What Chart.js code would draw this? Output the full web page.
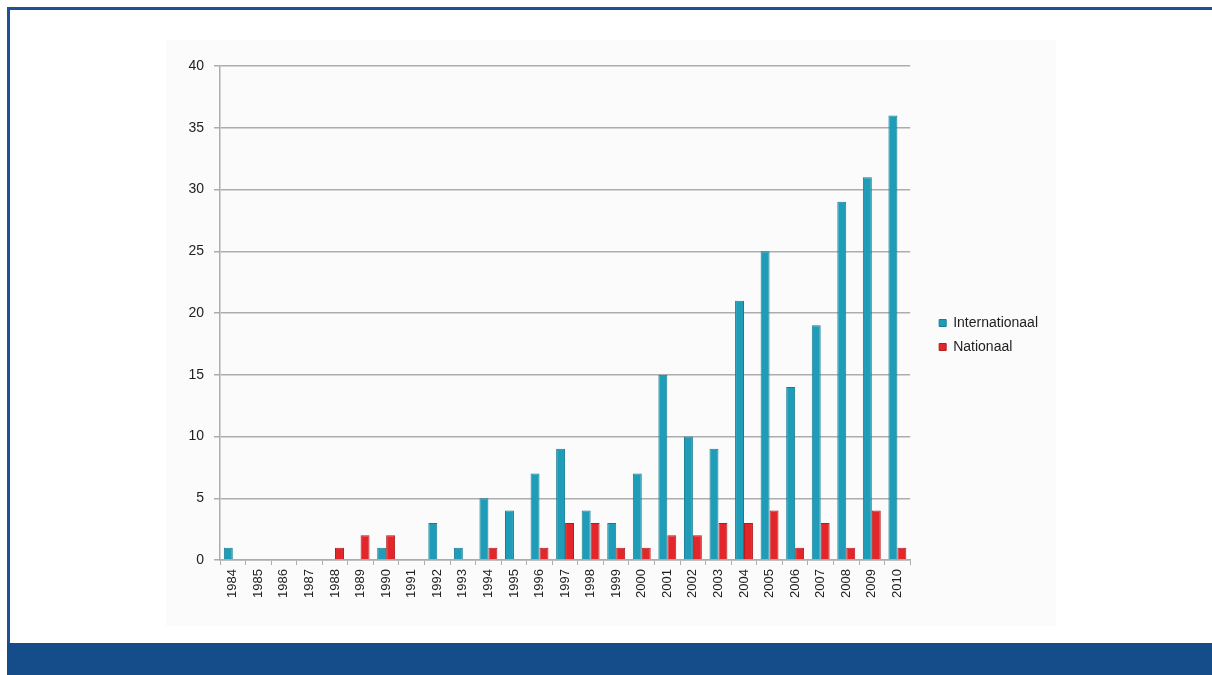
<!DOCTYPE html>
<html>
<head>
<meta charset="utf-8">
<script src="https://cdn.jsdelivr.net/npm/chart.js@4/dist/chart.umd.min.js"></script>
<style>
  html, body { margin: 0; padding: 0; background: #ffffff; width: 1212px; height: 675px; overflow: hidden; }
  body { position: relative; font-family: "Liberation Sans", Arial, sans-serif; }
  #topline { position: absolute; left: 7px; top: 7px; width: 1205px; height: 3px; background: #1d5396; }
  #leftline { position: absolute; left: 7px; top: 7px; width: 3px; height: 636px; background: #1d5396; }
  #footer { position: absolute; left: 7px; top: 643px; width: 1205px; height: 32px; background: #154d8a; }
  #panel { position: absolute; left: 166px; top: 40px; width: 890px; height: 586px; background: #fbfbfb; }
  #wrap { position: absolute; left: 0; top: 0; width: 1212px; height: 675px; }
</style>
</head>
<body>
<div id="topline"></div>
<div id="leftline"></div>
<div id="panel"></div>
<div id="footer"></div>
<div id="wrap"><canvas id="chart" width="1212" height="675"></canvas></div>
<script>
// Publication counts per year
const years = ['1984','1985','1986','1987','1988','1989','1990','1991','1992','1993','1994','1995','1996','1997',
               '1998','1999','2000','2001','2002','2003','2004','2005','2006','2007','2008','2009','2010'];
const internationaal = [1,0,0,0,0,0,1,0,3,1,5,4,7,9,4,3,7,15,10,9,21,25,14,19,29,31,36];
const nationaal      = [0,0,0,0,1,2,2,0,0,0,1,0,1,3,3,1,1,2,2,3,3,4,1,3,1,4,1];
const yTicks = [0,5,10,15,20,25,30,35,40];

const fontFamily = '"Liberation Sans", Arial, sans-serif';
const gridColor = '#adadad';

// Nudges the legend block to sit a little further right than the default slot
const legendOffset = {
  id: 'legendOffset',
  afterLayout(chart, args, opts) {
    const lg = chart.legend;
    if (!lg) return;
    lg.left += opts.dx; lg.right += opts.dx;
    lg.top += opts.dy; lg.bottom += opts.dy;
  }
};

new Chart(document.getElementById('chart'), {
  type: 'bar',
  data: {
    labels: years,
    datasets: [
      {
        label: 'Internationaal',
        data: internationaal,
        backgroundColor: '#1f9db8',
        borderColor: '#167c93',
        borderWidth: 1,
        borderSkipped: 'bottom'
      },
      {
        label: 'Nationaal',
        data: nationaal,
        backgroundColor: '#e2262a',
        borderColor: '#b31b1f',
        borderWidth: 1,
        borderSkipped: 'bottom'
      }
    ]
  },
  options: {
    responsive: false,
    animation: false,
    layout: { padding: { left: 160, top: 66, bottom: 55, right: 183 } },
    datasets: { bar: { categoryPercentage: 0.7, barPercentage: 1.0 } },
    scales: {
      x: {
        grid: { display: true, drawOnChartArea: false, drawTicks: true, tickLength: 5, color: gridColor, lineWidth: 1, offset: true },
        border: { display: true, color: gridColor, width: 1.5 },
        ticks: { autoSkip: false, minRotation: 90, maxRotation: 90, padding: 4, color: '#1e1e1e', font: { family: fontFamily, size: 13 } },
        afterFit(scale) { scale.height = 60; }
      },
      y: {
        min: 0, max: 40,
        afterBuildTicks(scale) { scale.ticks = yTicks.map(v => ({ value: v })); },
        grid: { color: gridColor, lineWidth: 1.5, tickLength: 6, drawTicks: true },
        border: { display: true, color: gridColor, width: 1.5 },
        ticks: { padding: 10, color: '#1e1e1e', font: { family: fontFamily, size: 14 } },
        afterFit(scale) { scale.width = 60; }
      }
    },
    plugins: {
      legend: {
        position: 'right',
        align: 'center',
        labels: {
          boxWidth: 7, boxHeight: 7, padding: 10,
          color: '#1e1e1e', font: { family: fontFamily, size: 14 }
        }
      },
      legendOffset: { dx: 19, dy: -8 },
      tooltip: { enabled: false }
    }
  },
  plugins: [legendOffset]
});
</script>
</body>
</html>
